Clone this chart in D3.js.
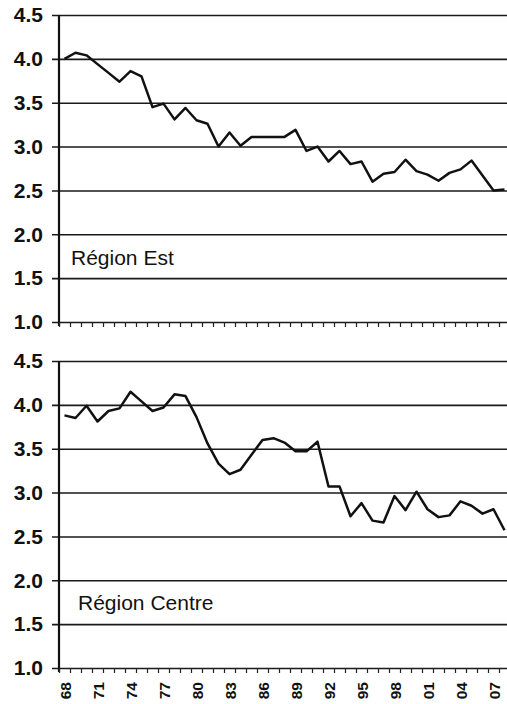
<!DOCTYPE html>
<html>
<head>
<meta charset="utf-8">
<script src="https://cdn.jsdelivr.net/npm/d3@7"></script>
<style>
  body { margin: 0; background: #fff; }
  svg { display: block; font-family: "Liberation Sans", Arial, sans-serif; }
</style>
</head>
<body>
<div id="chart"></div>
<script>
// data
var years = [1968, 1969, 1970, 1971, 1972, 1973, 1974, 1975, 1976, 1977,
             1978, 1979, 1980, 1981, 1982, 1983, 1984, 1985, 1986, 1987,
             1988, 1989, 1990, 1991, 1992, 1993, 1994, 1995, 1996, 1997,
             1998, 1999, 2000, 2001, 2002, 2003, 2004, 2005, 2006, 2007,
             2008];

var est = [4.00, 4.07, 4.04, 3.94, 3.84, 3.74, 3.86, 3.80, 3.45, 3.49,
           3.31, 3.44, 3.30, 3.26, 3.00, 3.16, 3.01, 3.11, 3.11, 3.11,
           3.11, 3.19, 2.95, 3.00, 2.83, 2.95, 2.80, 2.83, 2.60, 2.69,
           2.71, 2.85, 2.72, 2.68, 2.61, 2.70, 2.74, 2.84, 2.67, 2.50,
           2.51];

var centre = [3.88, 3.85, 3.99, 3.81, 3.93, 3.96, 4.15, 4.04, 3.93, 3.97,
              4.12, 4.10, 3.86, 3.56, 3.33, 3.21, 3.26, 3.43, 3.60, 3.62,
              3.57, 3.47, 3.47, 3.58, 3.07, 3.07, 2.73, 2.88, 2.68, 2.66,
              2.96, 2.80, 3.01, 2.81, 2.72, 2.74, 2.90, 2.85, 2.76, 2.81,
              2.57];

var yTicks = [1.0, 1.5, 2.0, 2.5, 3.0, 3.5, 4.0, 4.5];
var xLabels = [1968, 1971, 1974, 1977, 1980, 1983, 1986, 1989, 1992, 1995, 1998, 2001, 2004, 2007];

var panels = [
    {name: 'Région Est', values: est, top: 15, labelX: 71, labelY: 265, labels: false},
    {name: 'Région Centre', values: centre, top: 361, labelX: 78, labelY: 610, labels: true}
];

var W = 507, H = 704;
var left = 59, right = 510;
var panelH = 307;

var svg = d3.select('#chart')
    .append('svg')
    .attr('width', W)
    .attr('height', H);

var x = d3.scaleLinear()
    .domain([years[0] - 0.5, years[years.length - 1] + 0.5])
    .range([left, right]);

var plotW = right - left;

panels.forEach(function(p) {
    var y = d3.scaleLinear()
        .domain([1, 4.5])
        .range([p.top + panelH, p.top]);

    var g = svg.append('g');

    // gridlines + y labels
    var yAxis = g.append('g')
        .attr('class', 'y-axis')
        .attr('transform', 'translate(' + left + ',0)')
        .call(d3.axisLeft(y)
            .tickValues(yTicks)
            .tickSize(-plotW)
            .tickPadding(16)
            .tickFormat(d3.format('.1f'))
        );

    yAxis.select('.domain').remove();
    yAxis.selectAll('.tick line')
        .attr('x1', -7)
        .attr('stroke', '#1a1a1a')
        .attr('stroke-width', 1.6);
    yAxis.selectAll('.tick text')
        .attr('fill', '#111')
        .style('font-size', '21px')
        .style('font-weight', 'bold');

    // vertical axis line
    g.append('line')
        .attr('x1', left).attr('x2', left)
        .attr('y1', p.top).attr('y2', p.top + panelH + 4)
        .attr('stroke', '#111')
        .attr('stroke-width', 2.2);

    // minor year ticks
    var xTicks = g.append('g')
        .attr('transform', 'translate(0,' + (p.top + panelH) + ')')
        .call(d3.axisBottom(x)
            .tickValues(years.map(function(d) { return d - 0.5 }).concat([years[years.length - 1] + 0.5]))
            .tickSize(5)
            .tickFormat('')
        );
    xTicks.select('.domain').remove();
    xTicks.selectAll('.tick line')
        .attr('stroke', '#222')
        .attr('stroke-width', 1.2);

    if (p.labels) {
        var xAxis = g.append('g')
            .attr('transform', 'translate(0,' + (p.top + panelH) + ')')
            .call(d3.axisBottom(x)
                .tickValues(xLabels)
                .tickSize(0)
                .tickFormat(function(d) { return d3.format('02d')(d % 100) })
            );
        xAxis.select('.domain').remove();
        xAxis.selectAll('.tick text')
            .attr('transform', 'rotate(-90)')
            .attr('text-anchor', 'end')
            .attr('x', -14)
            .attr('y', 0)
            .attr('dy', '0.36em')
            .attr('fill', '#111')
            .style('font-size', '15.5px')
            .style('font-weight', 'bold');
    }

    // series line
    var line = d3.line()
        .x(function(d, i) { return x(years[i]) })
        .y(function(d) { return y(d) });

    g.append('path')
        .datum(p.values)
        .attr('fill', 'none')
        .attr('stroke', '#111')
        .attr('stroke-width', 2.5)
        .attr('stroke-linejoin', 'round')
        .attr('d', line);

    g.append('text')
        .attr('x', p.labelX)
        .attr('y', p.labelY)
        .attr('fill', '#111')
        .style('font-size', '21px')
        .text(p.name);
});
</script>
</body>
</html>
